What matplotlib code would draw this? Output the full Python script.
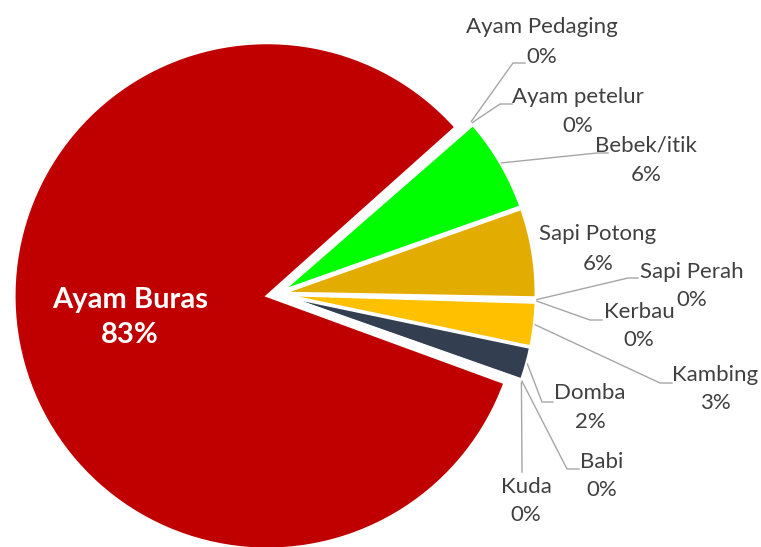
import numpy as np
import matplotlib.pyplot as plt

# data
categories = ["Ayam Buras", "Ayam Pedaging", "Ayam petelur", "Bebek/itik", "Sapi Potong",
              "Sapi Perah", "Kerbau", "Kambing", "Domba", "Babi", "Kuda"]
shares = [82.8, 0.1, 0.1, 6.0, 5.7, 0.1, 0.1, 2.8, 2.1, 0.1, 0.1]

colors = ["#C00000", "#4472C4", "#ED7D31", "#00FF00", "#E3AC00",
          "#5B9BD5", "#70AD47", "#FFC000", "#333F50", "#A5A5A5", "#264478"]
explode_px = [10, 6, 6, 6, 6, 6, 6, 6, 6, 6, 6]

W, H = 761, 547
R = 253
cx, cy = 277, 294  # pixel position of pie centre


def fy(y):
    return H - y


# label layout (pixel coords): name centre x, name y, percent y
label_pos = {
    "Ayam Pedaging": (542, 27, 57),
    "Ayam petelur": (578, 97, 126),
    "Bebek/itik": (646, 146, 175),
    "Sapi Potong": (598, 234, 264),
    "Sapi Perah": (692, 272, 300),
    "Kerbau": (639, 312, 340),
    "Kambing": (715, 375, 403),
    "Domba": (590, 393, 422),
    "Babi": (602, 462, 490),
    "Kuda": (526, 487, 515),
}
# leader elbow and end points (pixel coords)
leaders = {
    "Ayam Pedaging": [(513, 63), (525, 63)],
    "Ayam petelur": [(500, 104), (512, 104)],
    "Bebek/itik": [(597, 153), (608, 153)],
    "Sapi Perah": [(628, 278), (638, 278)],
    "Kerbau": [(590, 320), (602, 320)],
    "Kambing": [(660, 383), (672, 383)],
    "Domba": [(542, 402), (553, 402)],
    "Babi": [(567, 469), (579, 469)],
    "Kuda": [(522, 472)],
}

plt.rcParams['font.family'] = ['Lato', 'DejaVu Sans']

fig = plt.figure(figsize=(W / 100, H / 100), dpi=100)
ax = fig.add_axes([0, 0, 1, 1])

start = 41.8 + shares[0] / sum(shares) * 360 - 360
wedges, _ = ax.pie(shares, colors=colors, explode=explode_px,
                   radius=R, center=(cx, fy(cy)), startangle=start, counterclock=False,
                   wedgeprops=dict(edgecolor="white", linewidth=2.0))

ax.set_xlim(0, W)
ax.set_ylim(0, H)
ax.set_aspect("equal")
ax.axis("off")

txt = "#404040"
line_c = "#A6A6A6"
for w, name, v in zip(wedges, categories, shares):
    pct = f"{round(v)}%"
    if name == "Ayam Buras":
        ax.text(130, fy(300), name, color="white", fontsize=21, fontweight="bold",
                ha="center", va="center")
        ax.text(130, fy(335), pct, color="white", fontsize=21, fontweight="bold",
                ha="center", va="center")
        continue
    x, y1, y2 = label_pos[name]
    ax.text(x, fy(y1), name, color=txt, fontsize=16, ha="center", va="center")
    ax.text(x, fy(y2), pct, color=txt, fontsize=16, ha="center", va="center")
    if name in leaders:
        mid = np.radians((w.theta1 + w.theta2) / 2)
        sx = w.center[0] + (w.r + 1) * np.cos(mid)
        sy = w.center[1] + (w.r + 1) * np.sin(mid)
        xs = [sx] + [p[0] for p in leaders[name]]
        ys = [sy] + [fy(p[1]) for p in leaders[name]]
        ax.plot(xs, ys, color=line_c, linewidth=1.0)

fig.savefig("out.png", dpi=100)
